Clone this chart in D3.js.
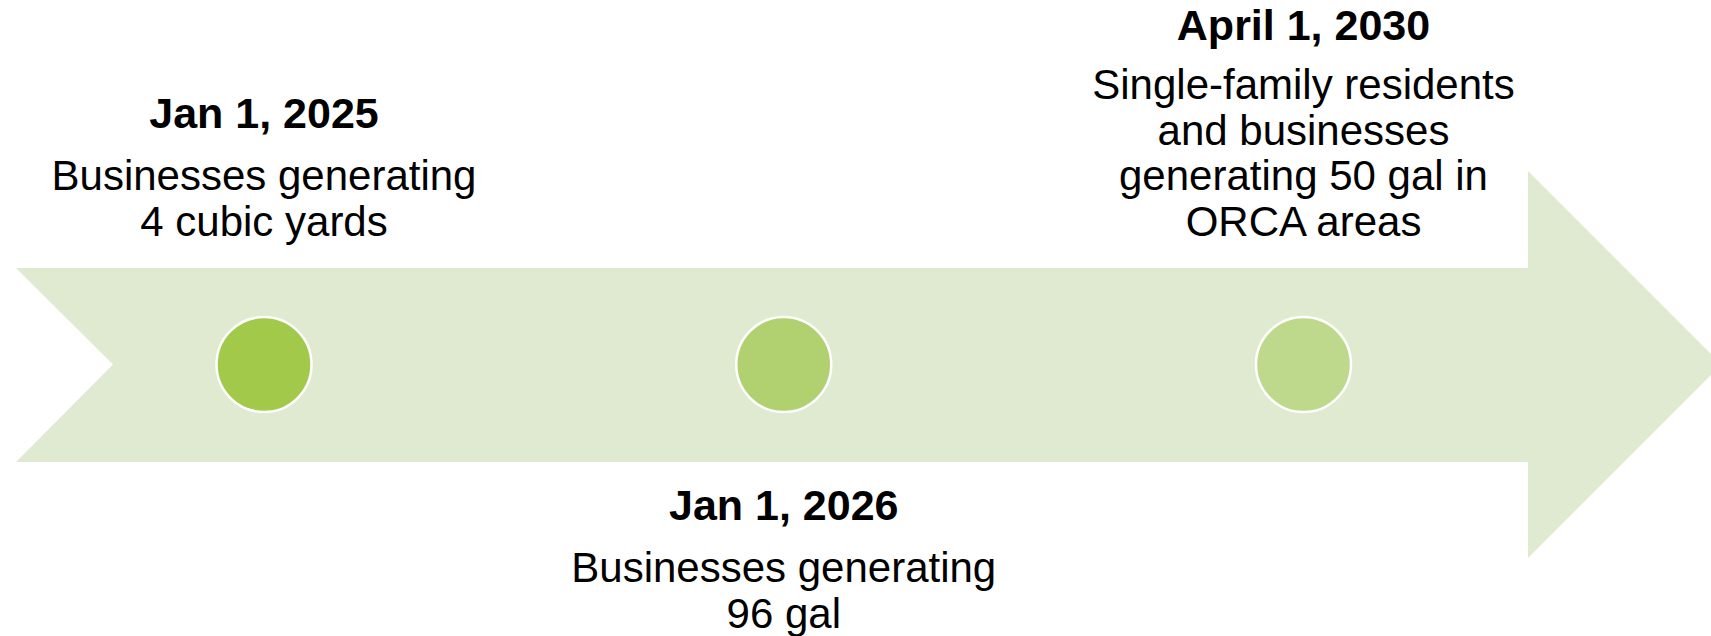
<!DOCTYPE html>
<html>
<head>
<meta charset="utf-8">
<script src="https://cdn.jsdelivr.net/npm/d3@7"></script>
<style>
  html, body { margin: 0; padding: 0; background: #fff; }
  svg { display: block; }
  text { font-family: "Liberation Sans", Arial, sans-serif; fill: #000; }
</style>
</head>
<body>
<div class="timeline"></div>
<script>
// Milestones
const dates = ['Jan 1, 2025', 'Jan 1, 2026', 'April 1, 2030'];
const descriptions = [
  ['Businesses generating', '4 cubic yards'],
  ['Businesses generating', '96 gal'],
  ['Single-family residents', 'and businesses', 'generating 50 gal in', 'ORCA areas']
];
const dotColors = ['#a3c94b', '#b1d06f', '#bfd98c'];

const width = 1711, height = 636;
const midY = 364.5;

const svg = d3.select('.timeline')
  .append('svg')
  .attr('width', width)
  .attr('height', height);

// x positions of the milestones
const x = d3.scalePoint()
  .domain(dates)
  .range([264, 1303.5]);

// Big arrow in the background
const bodyTop = 268, bodyBot = 462, headTop = 171, headBot = 558, headX = 1528;
const notch = (bodyBot - bodyTop) / 2;
const arrowPts = [
  [16, bodyTop], [headX, bodyTop], [headX, headTop],
  [headX + (headBot - headTop) / 2, midY],
  [headX, headBot], [headX, bodyBot], [16, bodyBot], [16 + notch, midY]
];
svg.append('path')
  .attr('d', d3.line()(arrowPts) + 'Z')
  .attr('fill', '#dfead0');

// Dots
svg.selectAll('.dot')
  .data(dates)
  .enter()
  .append('circle')
  .attr('class', 'dot')
  .attr('cx', d => x(d))
  .attr('cy', midY)
  .attr('r', 47.5)
  .attr('fill', (d, i) => dotColors[i])
  .attr('stroke', '#fff')
  .attr('stroke-width', 2.5);

// Labels: first and last above, middle one below
const boldSize = 43;
const fontSize = 42;
const lineH = 45.5;
const gap = 62;
const labels = svg.selectAll('.label')
  .data(dates)
  .enter()
  .append('g')
  .attr('class', 'label')
  .attr('transform', d => `translate(${x(d)},0)`);

labels.each(function(d, i) {
  const g = d3.select(this);
  const lines = descriptions[i];
  // baseline of the bold date line
  let top;
  if (i % 2 === 1) top = 520;
  else top = 235.5 - (lines.length - 1) * lineH - gap;

  g.append('text')
    .attr('text-anchor', 'middle')
    .attr('y', Math.max(top, 40)) // keep the date clear of the top edge
    .attr('font-size', boldSize)
    .attr('font-weight', 'bold')
    .text(d);

  g.selectAll('.desc')
    .data(lines)
    .enter()
    .append('text')
    .attr('class', 'desc')
    .attr('text-anchor', 'middle')
    .attr('y', (_, j) => top + gap + j * lineH)
    .attr('font-size', fontSize)
    .text(t => t);
});
</script>
</body>
</html>
